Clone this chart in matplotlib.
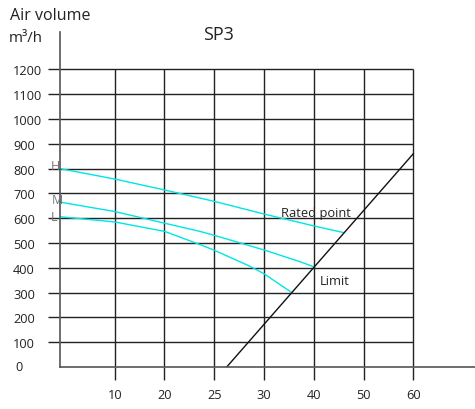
import numpy as np
import matplotlib
matplotlib.use("Agg")
import matplotlib.pyplot as plt
import matplotlib.transforms as mtransforms

plt.rcParams['font.family'] = ['Open Sans', 'DejaVu Sans']

# x positions are grid-column indices; the printed labels are uneven
x_ticks = [1, 2, 3, 4, 5, 6, 7]
x_labels = ['10', '20', '25', '30', '40', '50', '60']
y_ticks = [100, 200, 300, 400, 500, 600, 700, 800, 900, 1000, 1100, 1200]

# fan curves (speed H / M / L)
h_x = [-0.1, 1.0, 2.0, 3.0, 4.0, 5.0, 5.6]
h_y = [800, 758, 714, 668, 617, 569, 542]
m_x = [-0.1, 1.0, 2.0, 2.71, 3.0, 4.0, 4.72, 5.0]
m_y = [665, 627, 580, 547, 531, 472, 425, 404]
l_x = [-0.1, 1.0, 2.0, 2.71, 3.0, 3.73, 4.0, 4.56]
l_y = [606, 585, 547, 494, 471, 405, 376, 300]

# limit line
limit_x = [3.25, 7.0]
limit_y = [0, 860]

fig = plt.figure(figsize=(4.75, 4.1), dpi=100)
ax = fig.add_axes([60/475, 1 - 368/410, 415/475, 335/410])
ax.set_xlim(-0.1, 8.24)
ax.set_ylim(0, 1351)

for s in ['top', 'right']:
    ax.spines[s].set_visible(False)
ax.spines['left'].set_color('#555555')
ax.spines['bottom'].set_color('#555555')
ax.spines['left'].set_linewidth(1.2)
ax.spines['bottom'].set_linewidth(1.2)

ax.hlines(y_ticks, -0.1, 7, color='#222222', lw=1.0)
ax.vlines(x_ticks, 0, 1200, color='#222222', lw=1.0)

ax.set_xticks(x_ticks)
ax.set_xticklabels(x_labels)
ax.set_yticks(y_ticks)
ax.set_yticklabels([str(v) for v in y_ticks])
ax.tick_params(axis='both', direction='out', length=9, width=1.0,
               color='#222222', labelsize=9.2, labelcolor='#222222')
# y labels are left-aligned at x = 15 px
ax.tick_params(axis='y', pad=24.75)
for lab in ax.get_yticklabels():
    lab.set_horizontalalignment('left')
ax.tick_params(axis='x', pad=6)

trans = mtransforms.blended_transform_factory(fig.transFigure, ax.transData)
ax.text(15/475, 0, '0', transform=trans, ha='left', va='center',
        fontsize=9.2, color='#222222')

ax.plot(h_x, h_y, color='#00e5e5', lw=1.0)
ax.plot(m_x, m_y, color='#00e5e5', lw=1.0)
ax.plot(l_x, l_y, color='#00e5e5', lw=1.0)
ax.plot(limit_x, limit_y, color='#111111', lw=1.0)

ax.text(-0.19, 814, 'H', ha='center', va='center', fontsize=9, color='#777777')
ax.text(-0.16, 677, 'M', ha='center', va='center', fontsize=9, color='#777777')
ax.text(-0.22, 605, 'L', ha='center', va='center', fontsize=9, color='#777777')
ax.text(4.35, 625, 'Rated point', ha='left', va='center', fontsize=9.3, color='#222222')
ax.text(5.13, 347, 'Limit', ha='left', va='center', fontsize=9.3, color='#222222')

fig.text(10/475, 1 - 16/410, 'Air volume', ha='left', va='center', fontsize=11.5, color='#222222')
fig.text(9/475, 1 - 38/410, 'm³/h', ha='left', va='center', fontsize=10.8, color='#222222')
fig.text(218/475, 1 - 35/410, 'SP3', ha='center', va='center', fontsize=13, color='#222222')

fig.savefig('out.png', dpi=100)
